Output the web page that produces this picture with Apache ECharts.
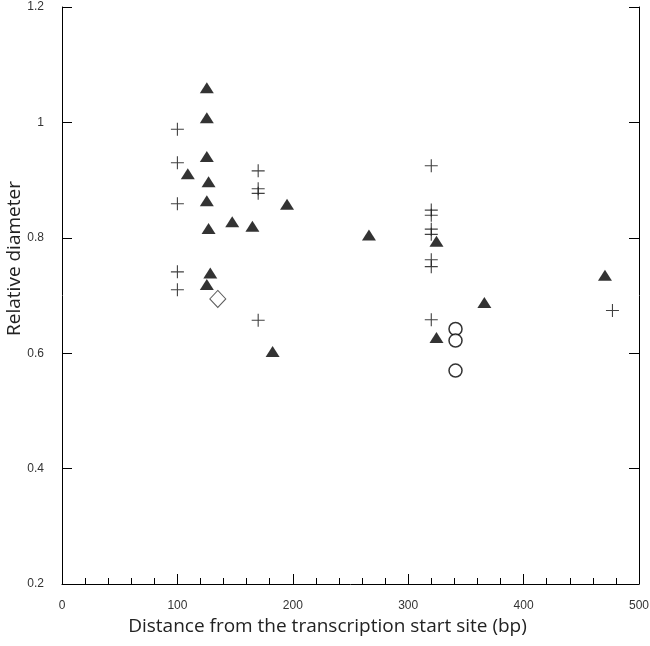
<!DOCTYPE html>
<html>
<head>
<meta charset="utf-8">
<script src="https://cdn.jsdelivr.net/npm/echarts@6/dist/echarts.min.js"></script>
<style>html,body{margin:0;padding:0;background:#fff}#c{width:650px;height:646px}</style>
</head>
<body>
<div id="c"></div>
<script>
const xTicks = [0, 100, 200, 300, 400, 500];
const yTicks = [0.2, 0.4, 0.6, 0.8, 1, 1.2];
const triangles = [[125.5,1.06],[125.5,1.008],[125.5,0.941],[109,0.911],[127,0.897],[125.5,0.864],[127,0.816],[147.5,0.828],[165,0.820],[195,0.858],[266,0.805],[128.5,0.739],[125.5,0.719],[182.5,0.603],[324.5,0.794],[324.5,0.627],[366,0.688],[470.5,0.735]];
const crosses = [[100,0.988],[100,0.930],[100,0.859],[100,0.741],[100,0.710],[170,0.916],[170,0.885],[170,0.877],[170,0.657],[320,0.925],[320,0.848],[320,0.839],[320,0.815],[320,0.806],[320,0.762],[320,0.750],[320,0.658],[477,0.674]];
const diamonds = [[135,0.694]];
const circles = [[341,0.642],[341,0.622],[341,0.570]];

const chart = echarts.init(document.getElementById('c'));
const tickFont = {color:'#333', fontSize:12, fontFamily:'"Liberation Sans Narrow","Liberation Sans",Arial,sans-serif'};
chart.setOption({
  animation:false,
  backgroundColor:'#fff',
  grid:{left:62, right:11, top:7, bottom:62, containLabel:false, outerBoundsMode:'none'},
  xAxis:{
    type:'value', min:xTicks[0], max:xTicks[xTicks.length-1], interval:100,
    name:'Distance from the transcription start site (bp)',
    nameLocation:'middle', nameGap:33, nameMoveOverlap:false,
    nameTextStyle:{fontFamily:'"Open Sans",sans-serif', fontSize:19, color:'#222', padding:[0,46,0,0]},
    axisLine:{show:true, onZero:false, lineStyle:{color:'#000', width:1}},
    axisTick:{show:true, inside:true, length:10, lineStyle:{color:'#000'}},
    minorTick:{show:true, splitNumber:5, length:6, lineStyle:{color:'#000'}},
    axisLabel:Object.assign({margin:16}, tickFont),
    splitLine:{show:false}
  },
  yAxis:[{
    type:'value', min:yTicks[0], max:yTicks[yTicks.length-1], interval:0.2,
    name:'Relative diameter', nameLocation:'middle', nameGap:38, nameRotate:90, nameMoveOverlap:false,
    nameTextStyle:{fontFamily:'"Open Sans",sans-serif', fontSize:19, color:'#222', padding:[0,0,0,74]},
    axisLine:{show:true, onZero:false, lineStyle:{color:'#000', width:1}},
    axisTick:{show:true, inside:true, length:10, lineStyle:{color:'#000'}},
    axisLabel:Object.assign({margin:18, formatter:v=>String(+v.toFixed(1))}, tickFont),
    splitLine:{show:false}
  },{
    type:'value', position:'right', min:yTicks[0], max:yTicks[yTicks.length-1], interval:0.2,
    axisLine:{show:true, onZero:false, lineStyle:{color:'#000', width:1}},
    axisTick:{show:true, inside:true, length:10, lineStyle:{color:'#000'}},
    axisLabel:{show:false}, splitLine:{show:false}
  }],
  series:[
    {type:'scatter', name:'cross', data:crosses, symbol:'path://M0,6.5 L13,6.5 M6.5,0 L6.5,13', symbolSize:13,
      itemStyle:{color:'none', borderColor:'#111', borderWidth:1.1}},
    {type:'scatter', name:'triangle', data:triangles, symbol:'triangle', symbolSize:[14,11],
      itemStyle:{color:'#000'}},
    {type:'scatter', name:'diamond', data:diamonds, symbol:'diamond', symbolSize:[16,17],
      itemStyle:{color:'#fff', borderColor:'#333', borderWidth:1}},
    {type:'scatter', name:'circle', data:circles, symbol:'circle', symbolSize:13,
      itemStyle:{color:'#fff', borderColor:'#000', borderWidth:1.5}}
  ]
});
</script>
</body>
</html>
